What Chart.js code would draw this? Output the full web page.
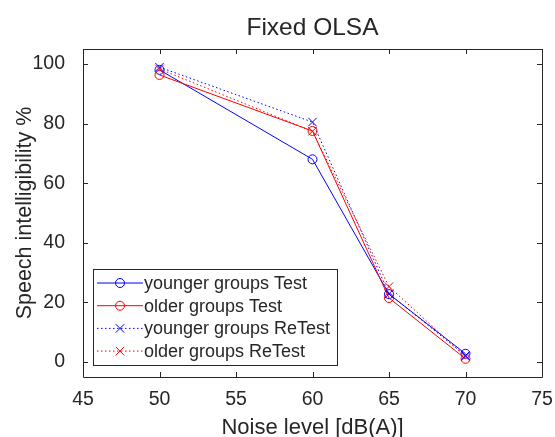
<!DOCTYPE html>
<html lang="en">
<head>
    <meta charset="UTF-8">
    <title>Fixed OLSA</title>
    <style>
        html, body {
            margin: 0;
            padding: 0;
            background: #fff;
            overflow: hidden;
        }
        #wrap {
            position: relative;
            width: 555px;
            height: 437px;
        }
    </style>
</head>
<body>
    <div id="wrap"><canvas id="olsaChart"></canvas></div>

    <script src="https://cdn.jsdelivr.net/npm/chart.js"></script>
    <script>
        // values
        var noiseLevels = [50, 60, 65, 70];
        var youngerTest = [98, 68, 22.8, 2.8];
        var olderTest = [96.3, 77.5, 21.5, 1.1];
        var youngerReTest = [98.9, 80.5, 22.9, 2.2];
        var olderReTest = [98.3, 77.4, 25.3, 1.8];

        var xTicks = [45, 50, 55, 60, 65, 70, 75];
        var yTicks = [0, 20, 40, 60, 80, 100];
        var chartTitle = 'Fixed OLSA';

        var axisColor = '#262626';
        var fontFamily = '"Liberation Sans", Arial, Helvetica, sans-serif';

        function toPoints(ys) {
            return noiseLevels.map(function (x, i) { return { x: x, y: ys[i] }; });
        }

        function series(label, ys, color, dotted, marker, order) {
            return {
                label: label,
                data: toPoints(ys),
                borderColor: color,
                backgroundColor: 'rgba(0,0,0,0)',
                borderWidth: 1,
                borderDash: dotted ? [1.5, 2.5] : [],
                pointStyle: marker,
                pointRadius: marker === 'circle' ? 4.5 : 6,
                pointBorderWidth: 1,
                pointBorderColor: color,
                pointBackgroundColor: 'rgba(0,0,0,0)',
                tension: 0,
                fill: false,
                order: order
            };
        }

        // box + inward ticks + title centred over the axes, like MATLAB
        var boxPlugin = {
            id: 'boxTicks',
            afterDraw: function (chart) {
                var ctx = chart.ctx;
                var a = chart.chartArea;
                var xs = chart.scales.x, ys = chart.scales.y;
                var len = 5;
                ctx.save();
                ctx.strokeStyle = axisColor;
                ctx.lineWidth = 1;
                ctx.beginPath();
                ctx.rect(Math.round(a.left) + 0.5, Math.round(a.top) + 0.5,
                    Math.round(a.right - a.left), Math.round(a.bottom - a.top));
                xTicks.forEach(function (v) {
                    var px = Math.round(xs.getPixelForValue(v)) + 0.5;
                    ctx.moveTo(px, a.bottom); ctx.lineTo(px, a.bottom - len);
                    ctx.moveTo(px, a.top); ctx.lineTo(px, a.top + len);
                });
                yTicks.forEach(function (v) {
                    var py = Math.round(ys.getPixelForValue(v)) + 0.5;
                    ctx.moveTo(a.left, py); ctx.lineTo(a.left + len, py);
                    ctx.moveTo(a.right, py); ctx.lineTo(a.right - len, py);
                });
                ctx.stroke();

                ctx.fillStyle = axisColor;
                ctx.font = '24.5px ' + fontFamily;
                ctx.textAlign = 'center';
                ctx.textBaseline = 'middle';
                ctx.fillText(chartTitle, (a.left + a.right) / 2, 28);
                ctx.restore();
            }
        };

        // legend inside the axes, bottom left
        var legendPlugin = {
            id: 'insideLegend',
            afterDraw: function (chart) {
                var ctx = chart.ctx;
                var sets = chart.data.datasets;
                var left = 93.5, top = 269.5, w = 244, h = 96;
                ctx.save();
                ctx.fillStyle = '#fff';
                ctx.fillRect(left, top, w, h);
                ctx.strokeStyle = axisColor;
                ctx.lineWidth = 1;
                ctx.strokeRect(left, top, w, h);
                ctx.font = '18px ' + fontFamily;
                ctx.textBaseline = 'middle';
                sets.forEach(function (ds, i) {
                    var y = 283 + i * 22.7;
                    ctx.strokeStyle = ds.borderColor;
                    ctx.setLineDash(ds.borderDash);
                    ctx.beginPath();
                    ctx.moveTo(97, y); ctx.lineTo(143, y);
                    ctx.stroke();
                    ctx.setLineDash([]);
                    ctx.fillStyle = 'rgba(0,0,0,0)';
                    Chart.helpers.drawPoint(ctx, {
                        pointStyle: ds.pointStyle,
                        radius: ds.pointRadius,
                        borderWidth: 1,
                        rotation: 0
                    }, 120, y);
                    ctx.fillStyle = axisColor;
                    ctx.fillText(ds.label, 144, y + 1);
                });
                ctx.restore();
            }
        };

        var ctx = document.getElementById('olsaChart').getContext('2d');
        var olsaChart = new Chart(ctx, {
            type: 'line',
            data: {
                datasets: [
                    series('younger groups Test', youngerTest, 'rgb(0,0,255)', false, 'circle', 3),
                    series('older groups Test', olderTest, 'rgb(255,0,0)', false, 'circle', 2),
                    series('younger groups ReTest', youngerReTest, 'rgb(0,0,255)', true, 'crossRot', 1),
                    series('older groups ReTest', olderReTest, 'rgb(255,0,0)', true, 'crossRot', 0)
                ]
            },
            options: {
                responsive: true,
                maintainAspectRatio: false,
                animation: false,
                layout: { padding: { left: 0, right: 13, top: 49, bottom: 0 } },
                plugins: {
                    legend: { display: false },
                    tooltip: { enabled: false },
                    title: { display: false }
                },
                scales: {
                    x: {
                        type: 'linear',
                        min: 45,
                        max: 75,
                        afterBuildTicks: function (s) { s.ticks = xTicks.map(function (v) { return { value: v }; }); },
                        afterFit: function (s) { s.height = 60; s.paddingLeft = 0; s.paddingRight = 0; },
                        grid: { display: false },
                        border: { display: false },
                        ticks: {
                            color: axisColor,
                            font: { family: fontFamily, size: 19.5 },
                            padding: 3,
                            maxRotation: 0
                        },
                        title: {
                            display: true,
                            text: 'Noise level [dB(A)]',
                            color: axisColor,
                            font: { family: fontFamily, size: 22, lineHeight: 1.2 },
                            padding: { top: 0, bottom: -4 }
                        }
                    },
                    y: {
                        min: -5,
                        max: 105,
                        afterBuildTicks: function (s) { s.ticks = yTicks.map(function (v) { return { value: v }; }); },
                        afterFit: function (s) { s.width = 83; s.paddingTop = 0; s.paddingBottom = 0; },
                        grid: { display: false },
                        border: { display: false },
                        ticks: {
                            color: axisColor,
                            font: { family: fontFamily, size: 19.5 },
                            padding: 10
                        },
                        title: {
                            display: true,
                            text: 'Speech intelligibility %',
                            color: axisColor,
                            font: { family: fontFamily, size: 21.5, lineHeight: 1.2 },
                            padding: { top: 12, bottom: 0 }
                        }
                    }
                }
            },
            plugins: [boxPlugin, legendPlugin]
        });
    </script>
</body>
</html>
